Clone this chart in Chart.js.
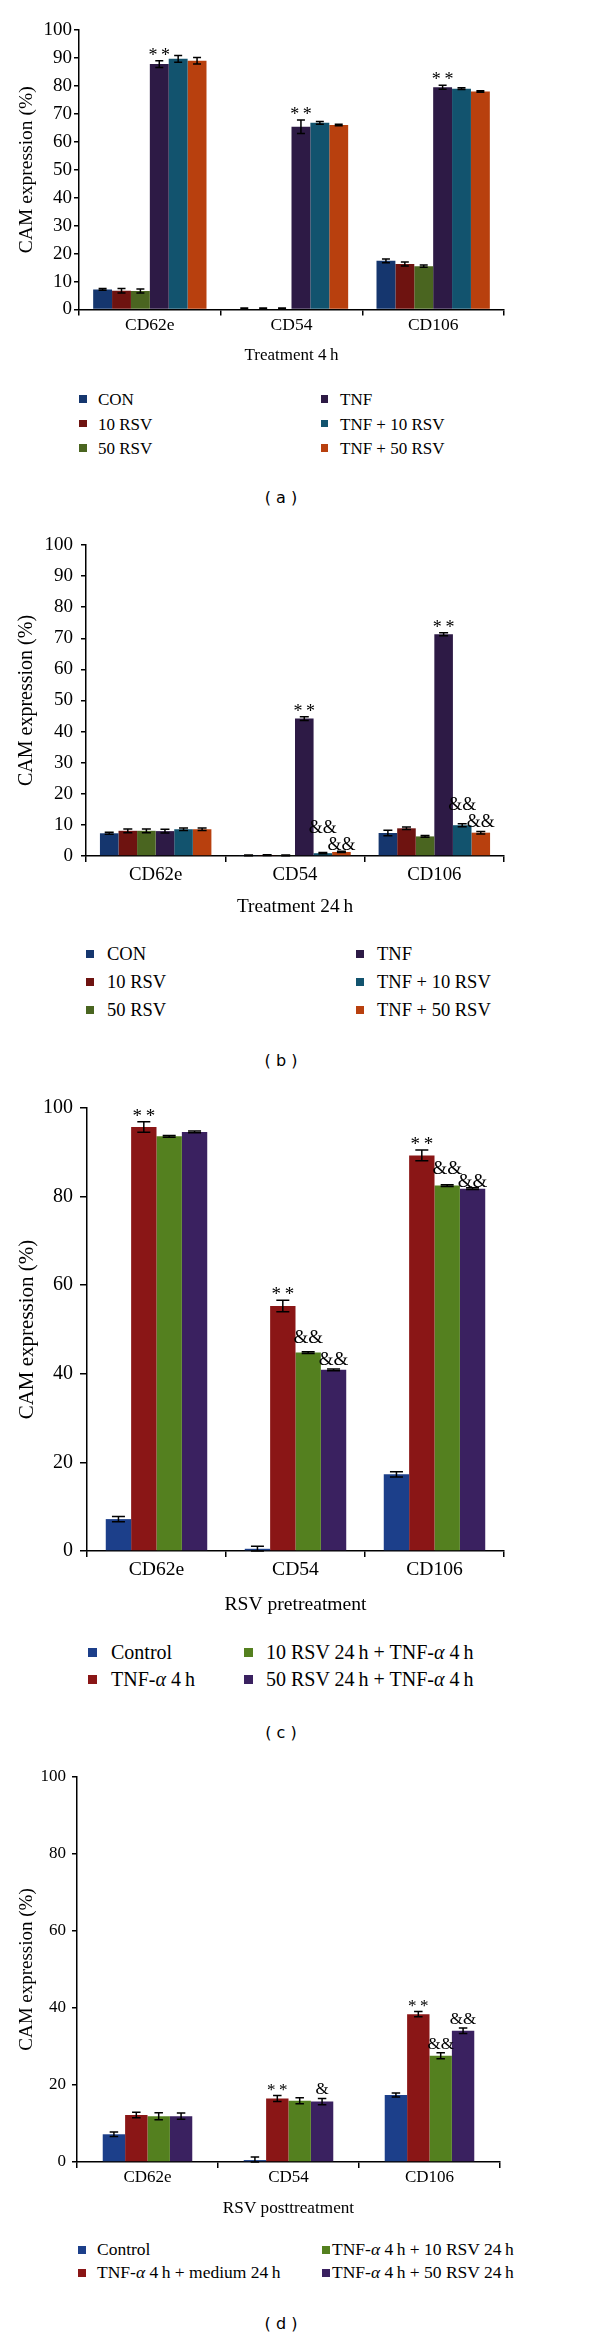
<!DOCTYPE html>
<html>
<head>
<meta charset="utf-8">
<script src="https://cdn.jsdelivr.net/npm/chart.js@4.4.1/dist/chart.umd.min.js"></script>
<style>
  body { margin: 0; background: #fff; width: 600px; height: 2339px; position: relative; overflow: hidden; }
  canvas { position: absolute; left: 0; }
  .sq { position: absolute; }
  .leg { position: absolute; font-family: "Liberation Serif", serif; color: #000; white-space: nowrap; transform: translateY(-50%); line-height: 1; }
  .plabel { position: absolute; font-family: "DejaVu Sans", sans-serif; color: #000; transform: translate(-50%, -50%); white-space: pre; }
</style>
</head>
<body>
<script>
// ---- data ----
const categories = ['CD62e', 'CD54', 'CD106'];
const yTicksAB = [0, 10, 20, 30, 40, 50, 60, 70, 80, 90, 100];
const yTicksCD = [0, 20, 40, 60, 80, 100];

const seriesAB = ['CON', '10 RSV', '50 RSV', 'TNF', 'TNF + 10 RSV', 'TNF + 50 RSV'];
const seriesC = ['Control', 'TNF-α 4\u2009h', '10 RSV 24\u2009h + TNF-α 4\u2009h', '50 RSV 24\u2009h + TNF-α 4\u2009h'];
const seriesD = ['Control', 'TNF-α 4\u2009h + medium 24\u2009h', 'TNF-α 4\u2009h + 10 RSV 24\u2009h', 'TNF-α 4\u2009h + 50 RSV 24\u2009h'];

const xTitles = ['Treatment 4\u2009h', 'Treatment 24\u2009h', 'RSV pretreatment', 'RSV posttreatment'];

// (a) treatment 4h
const valuesA = [
  [7.2, 0.3, 17.4],
  [6.7, 0.3, 16.3],
  [6.6, 0.3, 15.5],
  [87.8, 65.4, 79.5],
  [89.7, 66.8, 79.0],
  [89.0, 66.0, 78.0]
];
const errA = [
  [0.3, 0.2, 0.7],
  [0.8, 0.2, 0.7],
  [0.7, 0.2, 0.4],
  [1.2, 2.4, 0.7],
  [1.2, 0.5, 0.3],
  [1.2, 0.3, 0.3]
];
const marksA = [
  ['', '', ''], ['', '', ''], ['', '', ''],
  ['**', '**', '**'], ['', '', ''], ['', '', '']
];

// (b) treatment 24h
const valuesB = [
  [7.3, 0.2, 7.4],
  [8.1, 0.3, 8.9],
  [8.1, 0.2, 6.3],
  [8.0, 44.2, 71.3],
  [8.6, 0.9, 9.9],
  [8.6, 1.3, 7.5]
];
const errB = [
  [0.3, 0.1, 0.9],
  [0.6, 0.1, 0.4],
  [0.6, 0.1, 0.3],
  [0.6, 0.6, 0.5],
  [0.4, 0.2, 0.5],
  [0.4, 0.2, 0.4]
];
const marksB = [
  ['', '', ''], ['', '', ''], ['', '', ''],
  ['', '**', '**'], ['', '&&', '&&'], ['', '&&', '&&']
];

// (c) RSV pretreatment
const valuesC = [
  [7.2, 0.5, 17.3],
  [95.7, 55.3, 89.3],
  [93.6, 44.8, 82.5],
  [94.6, 40.9, 81.8]
];
const errC = [
  [0.6, 0.6, 0.6],
  [1.2, 1.3, 1.2],
  [0.2, 0.2, 0.2],
  [0.2, 0.2, 0.2]
];
const marksC = [
  ['', '', ''], ['**', '**', '**'], ['', '&&', '&&'], ['', '&&', '&&']
];

// (d) RSV posttreatment
const valuesD = [
  [7.2, 0.5, 17.4],
  [12.2, 16.5, 38.4],
  [11.9, 15.9, 27.6],
  [11.9, 15.7, 34.1]
];
const errD = [
  [0.6, 0.8, 0.5],
  [0.7, 0.8, 0.7],
  [0.9, 0.8, 0.8],
  [0.8, 0.8, 0.7]
];
const marksD = [
  ['', '', ''], ['', '**', '**'], ['', '', '&&'], ['', '&', '&&']
];

const colorsAB = ['#15366e', '#6e1310', '#4a6520', '#2d1a45', '#12536e', '#b8400e'];
const colorsCD = ['#1c3f8a', '#8a1616', '#54801f', '#3a2160'];

// ---- layout / style ----
const SERIF = '"Liberation Serif", "Times New Roman", serif';

const panels = [
  {
    label: '( a )', labelY: 497,
    names: seriesAB, values: valuesA, errors: errA, marks: marksA, colors: colorsAB, yTicks: yTicksAB, xTitle: xTitles[0],
    plot: { left: 79, right: 504, top: 30, bottom: 310 },
    st: { tick: 19, cat: 17.5, title: 17, yTitle: 19.5, tickLen: 5, tickPad: 2, catOff: 15.5, titleOff: 46.5, catPct: 0.8, cap: 8, mark: 18 },
    lift: {},
    leg: { perCol: 3, y0: 399, dy: 24.5, sqX: [83, 324.5], txtX: [98, 340], size: 17, sq: 7.5 }
  },
  {
    label: '( b )', labelY: 1060,
    names: seriesAB, values: valuesB, errors: errB, marks: marksB, colors: colorsAB, yTicks: yTicksAB, xTitle: xTitles[1],
    plot: { left: 86, right: 504, top: 545, bottom: 856 },
    st: { tick: 19, cat: 18.8, title: 19.3, yTitle: 20, tickLen: 5, tickPad: 8, catOff: 19, titleOff: 51, catPct: 0.8, cap: 9, mark: 18 },
    lift: { '4,1': 16, '4,2': 10, '5,1': -3 },
    leg: { perCol: 3, y0: 954, dy: 28, sqX: [89.5, 359.5], txtX: [107, 377], size: 18.5, sq: 8 }
  },
  {
    label: '( c )', labelY: 1732,
    names: seriesC, values: valuesC, errors: errC, marks: marksC, colors: colorsCD, yTicks: yTicksCD, xTitle: xTitles[2],
    plot: { left: 87, right: 504, top: 1108, bottom: 1551 },
    st: { tick: 20, cat: 19.6, title: 19.6, yTitle: 21, tickLen: 7, tickPad: 7, catOff: 19, titleOff: 54, catPct: 0.73, cap: 13, mark: 19 },
    lift: { '2,1': 5, '2,2': 7, '3,2': -3 },
    leg: { perCol: 2, y0: 1652, dy: 27, sqX: [92.5, 248.5], txtX: [111, 266], size: 20, sq: 9 }
  },
  {
    label: '( d )', labelY: 2323,
    names: seriesD, values: valuesD, errors: errD, marks: marksD, colors: colorsCD, yTicks: yTicksCD, xTitle: xTitles[3],
    plot: { left: 77, right: 500, top: 1777, bottom: 2162 },
    st: { tick: 17, cat: 17, title: 17.2, yTitle: 19, tickLen: 5, tickPad: 6, catOff: 16, titleOff: 46, catPct: 0.635, cap: 8.5, mark: 17 },
    lift: {},
    leg: { perCol: 2, y0: 2250, dy: 23, sqX: [82, 325.5], txtX: [97, 332], size: 17.5, sq: 8 }
  }
];

// error bars + significance marks, drawn from the bar elements and the y scale
const errorBarPlugin = {
  id: 'errorBars',
  afterDatasetsDraw(chart, args, opts) {
    const ctx = chart.ctx;
    const y = chart.scales.y;
    ctx.save();
    chart.data.datasets.forEach((ds, i) => {
      const meta = chart.getDatasetMeta(i);
      meta.data.forEach((bar, j) => {
        const v = ds.data[j];
        const e = ds.errors[j];
        const top = y.getPixelForValue(v + e);
        const bot = y.getPixelForValue(Math.max(v - e, 0));
        const hw = opts.cap / 2;
        ctx.strokeStyle = '#000';
        ctx.lineWidth = 1.5;
        ctx.beginPath();
        ctx.moveTo(bar.x, top); ctx.lineTo(bar.x, bot);
        ctx.moveTo(bar.x - hw, top); ctx.lineTo(bar.x + hw, top);
        ctx.moveTo(bar.x - hw, bot); ctx.lineTo(bar.x + hw, bot);
        ctx.stroke();

        const mark = ds.marks[j];
        if (mark) {
          const star = mark[0] === '*';
          const gap = star ? 0 : 4;
          const lift = opts.lift[i + ',' + j] || 0;
          ctx.fillStyle = '#000';
          ctx.font = opts.mark + 'px ' + SERIF;
          ctx.textAlign = 'center';
          ctx.textBaseline = 'alphabetic';
          const txt = star ? mark.split('').join('\u2009') : mark;
          ctx.fillText(txt, bar.x, top - gap - lift);
        }
      });
    });
    ctx.restore();
  }
};

function buildPanel(p) {
  const st = p.st;
  const canvasTop = p.plot.top - 20;
  const xAxisH = st.titleOff + 15;
  const H = p.plot.bottom + xAxisH - canvasTop;

  const cv = document.createElement('canvas');
  cv.width = 600;
  cv.height = H;
  cv.style.top = canvasTop + 'px';
  document.body.appendChild(cv);

  const datasets = p.names.map((name, i) => ({
    label: name,
    data: p.values[i],
    errors: p.errors[i],
    marks: p.marks[i],
    backgroundColor: p.colors[i],
    borderWidth: 0,
    barPercentage: 1.0,
    categoryPercentage: st.catPct
  }));

  new Chart(cv.getContext('2d'), {
    type: 'bar',
    data: { labels: categories, datasets: datasets },
    plugins: [errorBarPlugin],
    options: {
      responsive: false,
      animation: false,
      devicePixelRatio: 1,
      layout: { padding: { top: p.plot.top - canvasTop, left: 0, right: 600 - p.plot.right, bottom: 0 } },
      plugins: {
        legend: { display: false },
        tooltip: { enabled: false },
        errorBars: { cap: st.cap, mark: st.mark, lift: p.lift }
      },
      scales: {
        x: {
          offset: true,
          grid: { display: true, offset: true, drawOnChartArea: false, drawTicks: true, tickLength: 6, color: '#000', lineWidth: 1.5 },
          border: { display: true, color: '#000', width: 1.5 },
          ticks: {
            color: '#000', autoSkip: false, maxRotation: 0,
            font: { family: SERIF, size: st.cat, lineHeight: 1 },
            padding: st.catOff - 6 - st.cat / 2
          },
          title: {
            display: true, text: p.xTitle, color: '#000',
            font: { family: SERIF, size: st.title, lineHeight: 1 },
            padding: { top: 0, bottom: xAxisH - st.titleOff - st.title / 2 }
          },
          afterFit: s => { s.height = xAxisH; }
        },
        y: {
          min: 0, max: 100,
          afterBuildTicks: s => { s.ticks = p.yTicks.map(v => ({ value: v })); },
          grid: { display: true, drawOnChartArea: false, drawTicks: true, tickLength: st.tickLen, color: '#000', lineWidth: 1.5 },
          border: { display: true, color: '#000', width: 1.5 },
          ticks: {
            color: '#000',
            font: { family: SERIF, size: st.tick, lineHeight: 1 },
            padding: st.tickPad
          },
          title: {
            display: true, text: 'CAM expression (%)', color: '#000',
            font: { family: SERIF, size: st.yTitle, lineHeight: 1 },
            padding: { top: 27 - st.yTitle / 2, bottom: 0 }
          },
          afterFit: s => { s.width = p.plot.left; }
        }
      }
    }
  });

  // legend in two columns
  const lg = p.leg;
  p.names.forEach((name, i) => {
    const col = i < lg.perCol ? 0 : 1;
    const row = i % lg.perCol;
    const cy = lg.y0 + row * lg.dy;

    const sq = document.createElement('div');
    sq.className = 'sq';
    sq.style.left = (lg.sqX[col] - lg.sq / 2) + 'px';
    sq.style.top = (cy - lg.sq / 2) + 'px';
    sq.style.width = lg.sq + 'px';
    sq.style.height = lg.sq + 'px';
    sq.style.background = p.colors[i];
    document.body.appendChild(sq);

    const tx = document.createElement('div');
    tx.className = 'leg';
    tx.style.left = lg.txtX[col] + 'px';
    tx.style.top = cy + 'px';
    tx.style.fontSize = lg.size + 'px';
    tx.innerHTML = name.replace(/α/g, '<i>α</i>');
    document.body.appendChild(tx);
  });

  const pl = document.createElement('div');
  pl.className = 'plabel';
  pl.style.left = '281px';
  pl.style.top = p.labelY + 'px';
  pl.style.fontSize = '16px';
  pl.textContent = p.label;
  document.body.appendChild(pl);
}

panels.forEach(buildPanel);
</script>
</body>
</html>
